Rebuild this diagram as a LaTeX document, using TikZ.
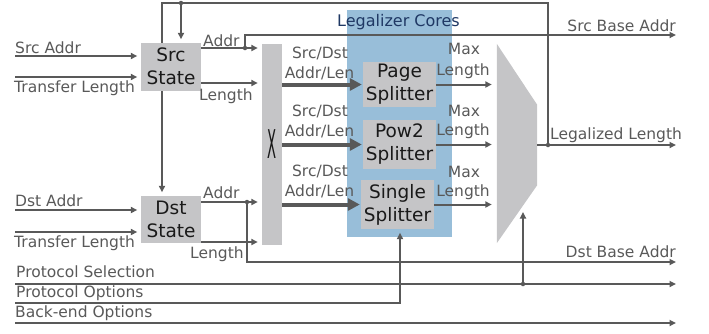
\documentclass[tikz,border=0pt]{standalone}
\usepackage{fontspec}
\setmainfont{DejaVu Sans}
\usetikzlibrary{arrows.meta,calc}
\pgfdeclarelayer{bg}
\pgfsetlayers{bg,main}
\definecolor{ln}{RGB}{89,89,89}
\definecolor{bx}{RGB}{197,197,199}
\definecolor{core}{RGB}{152,190,217}
\definecolor{coretxt}{RGB}{31,56,100}
\begin{document}
\begin{tikzpicture}[x=1pt,y=-1pt,
  wire/.style={draw=ln,line width=2pt},
  arr/.style={wire,-{Triangle[length=6.5pt,width=6pt]}},
  gap/.style={shorten >=3.5pt},
  fat/.style={draw=ln,line width=4pt,-{Triangle[length=12pt,width=12pt]},shorten >=1pt},
  dot/.style={circle,fill=ln,inner sep=0pt,minimum size=4.5pt},
  lbl/.style={text=ln,font=\fontsize{15.5}{19.5}\selectfont,inner sep=0pt},
  blk/.style={fill=bx,inner sep=0pt,font=\fontsize{18.5}{23}\selectfont,text=black!90,align=center},
]
\useasboundingbox (0,0) rectangle (709,333);

% blue legalizer cores area
\node[fill=core,minimum width=105pt,minimum height=227pt,inner sep=0pt] (cores) at (399.5,123.5) {};
\node[text=coretxt,font=\fontsize{16}{19}\selectfont,inner sep=0pt,anchor=base] (coreslbl) at (398.5,26.5) {Legalizer Cores};

% boxes
\node[blk,minimum width=60pt,minimum height=47.5pt] (srcst) at (171,66.75) {Src\\State};
\node[blk,minimum width=60pt,minimum height=47pt] (dstst) at (171,219.5) {Dst\\State};
\node[fill=bx,minimum width=20.5pt,minimum height=201pt,inner sep=0pt] (xbar) at (271.75,144.5) {};
\node[text=black!90,font=\fontsize{24}{24}\selectfont,inner sep=0pt] (xlbl) at (271.75,144) {\scalebox{0.55}[1.65]{X}};
\node[blk,minimum width=73pt,minimum height=45pt] (page) at (399.5,84.5) {Page\\Splitter};
\node[blk,minimum width=73pt,minimum height=49pt] (pow2) at (399.5,144.5) {Pow2\\Splitter};
\node[blk,minimum width=73pt,minimum height=49pt] (single) at (397.5,204.5) {Single\\Splitter};

% mux
\node[minimum width=40pt,minimum height=199pt,inner sep=0pt] (mux) at (517,143.5) {};
\fill[bx] (mux.north west) -- ($(mux.north east)+(0,61)$) -- ($(mux.south east)+(0,-58)$) -- (mux.south west) -- cycle;

% coordinates
\coordinate (ll) at (548,145);
\coordinate (tr) at (548,3);
\coordinate (tl) at (162,3);
\coordinate (tsrc) at (181,3);
\coordinate (inSA) at (15,56);
\coordinate (inSL) at (15,77);
\coordinate (inDA) at (15,210);
\coordinate (inDL) at (15,232);
\coordinate (sajn) at (245,48);
\coordinate (sbend) at (245,35);
\coordinate (sbase) at (676,35);
\coordinate (slen) at (201,83);
\coordinate (dajn) at (247,202);
\coordinate (dbend) at (247,262);
\coordinate (dbase) at (676,262);
\coordinate (dlen) at (201,242);
\coordinate (legout) at (676,145);
\coordinate (psin) at (15,284);
\coordinate (psout) at (676,284);
\coordinate (psjn) at (523,284);
\coordinate (pssel) at (523,212);
\coordinate (poin) at (15,303);
\coordinate (pobend) at (400,303);
\coordinate (boin) at (15,323);
\coordinate (boout) at (676,323);

% feedback loop (behind boxes)
\begin{pgfonlayer}{bg}
\draw[arr,gap] (ll) -- (tr) -- (tl) -- (tl |- dstst.north);
\end{pgfonlayer}
\draw[arr,gap] (tsrc) -- (tsrc |- srcst.north);
\node[dot] (d1) at (tsrc) {};
\node[dot] (d2) at (ll) {};

% inputs
\draw[arr,gap] (inSA) -- (inSA -| srcst.west);
\draw[arr,gap] (inSL) -- (inSL -| srcst.west);
\draw[arr,gap] (inDA) -- (inDA -| dstst.west);
\draw[arr,gap] (inDL) -- (inDL -| dstst.west);

% state outputs
\draw[arr,gap] (sajn -| srcst.east) -- (sajn -| xbar.west);
\draw[arr] (sajn) -- (sbend) -- (sbase);
\node[dot] (d3) at (sajn) {};
\draw[arr,gap] (slen -| srcst.east) -- (slen -| xbar.west);
\draw[arr,gap] (dajn -| dstst.east) -- (dajn -| xbar.west);
\draw[arr] (dajn) -- (dbend) -- (dbase);
\node[dot] (d4) at (dajn) {};
\draw[arr,gap] (dlen -| dstst.east) -- (dlen -| xbar.west);

% crossbar to splitters
\draw[fat] (xbar.east |- page.west) -- (page.west);
\draw[fat] (xbar.east |- pow2.west) -- (pow2.west);
\draw[fat] (xbar.east |- single.west) -- (single.west);

% splitters to mux
\draw[arr,gap,shorten >=5pt] (page.east) -- (page.east -| mux.west);
\draw[arr,gap,shorten >=5pt] (pow2.east) -- (pow2.east -| mux.west);
\draw[arr,gap,shorten >=5pt] (single.east) -- (single.east -| mux.west);

% mux output
\draw[arr] (legout -| mux.east) -- (legout);

% bottom control lines
\draw[arr] (psin) -- (psout);
\draw[arr] (psjn) -- (pssel);
\node[dot] (d5) at (psjn) {};
\draw[arr,gap] (poin) -- (pobend) -- (pobend |- single.south);
\draw[arr] (boin) -- (boout);

% labels
\node[lbl,anchor=base west] (t1) at (15,53) {Src Addr};
\node[lbl,anchor=base west] (t2) at (14,92.5) {Transfer Length};
\node[lbl,anchor=base west] (t3) at (203,46.5) {Addr};
\node[lbl,anchor=base west] (t4) at (199,100.5) {Length};
\node[lbl,anchor=base west] (t5) at (15,206.5) {Dst Addr};
\node[lbl,anchor=base west] (t6) at (14,247.5) {Transfer Length};
\node[lbl,anchor=base west] (t7) at (203,198) {Addr};
\node[lbl,anchor=base west] (t8) at (190,258) {Length};
\node[lbl,anchor=base west] (t9) at (16,277.5) {Protocol Selection};
\node[lbl,anchor=base west] (t10) at (16,297.5) {Protocol Options};
\node[lbl,anchor=base west] (t11) at (15,317.5) {Back-end Options};
\node[lbl,anchor=base east] (t12) at (676,31.5) {Src Base Addr};
\node[lbl,anchor=base east] (t13) at (676,257.5) {Dst Base Addr};
\node[lbl,anchor=base west] (t14) at (550,139) {Legalized Length};

\node[lbl,anchor=base] (a1) at (320,58) {Src/Dst};
\node[lbl,anchor=base] (a2) at (319.5,78) {Addr/Len};
\node[lbl,anchor=base] (a3) at (320,116.5) {Src/Dst};
\node[lbl,anchor=base] (a4) at (319.5,136) {Addr/Len};
\node[lbl,anchor=base] (a5) at (320,176.5) {Src/Dst};
\node[lbl,anchor=base] (a6) at (319.5,196.5) {Addr/Len};

\node[lbl,anchor=base] (m1) at (464,54.5) {Max};
\node[lbl,anchor=base] (m2) at (463,75) {Length};
\node[lbl,anchor=base] (m3) at (464,116.5) {Max};
\node[lbl,anchor=base] (m4) at (463,135.5) {Length};
\node[lbl,anchor=base] (m5) at (464,177.5) {Max};
\node[lbl,anchor=base] (m6) at (463,196.5) {Length};
\end{tikzpicture}
\end{document}
